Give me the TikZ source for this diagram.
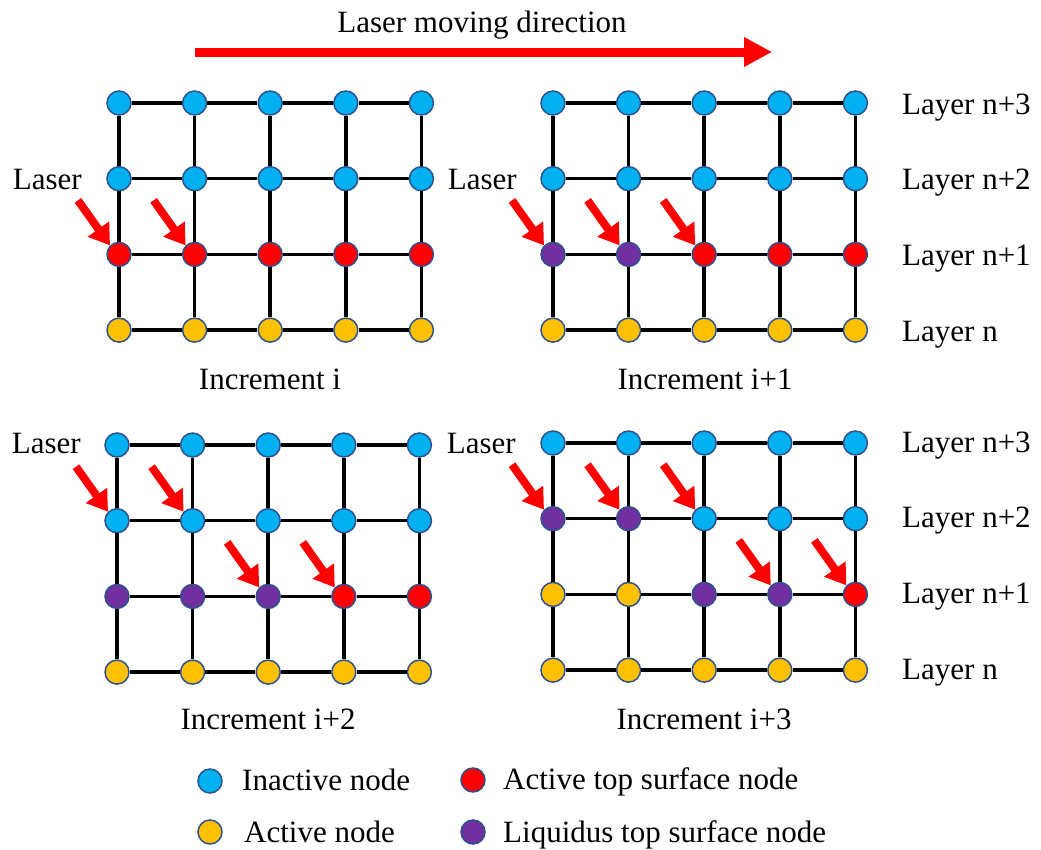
\documentclass[tikz,border=0pt]{standalone}
\usepackage{fontspec}
\setmainfont{Liberation Serif}
\usetikzlibrary{arrows.meta,positioning}

\definecolor{inactblue}{HTML}{00B0F0}
\definecolor{actyellow}{HTML}{FFC000}
\definecolor{topred}{HTML}{FF0000}
\definecolor{liqpurple}{HTML}{7030A0}
\definecolor{rimblue}{HTML}{2F528F}

\newcommand{\stepX }{75.6}
\newcommand{\stepY }{75.7}
\newcommand{\leftTopX }{119}
\newcommand{\leftBotX }{117}
\newcommand{\rightX }{553}
\newcommand{\topY }{103}
\newcommand{\botLY }{445}
\newcommand{\botRY }{443}

% one layer of nodes: name, x of first node, y, fill colours
\newcommand{\nodeRow}[4]{%
  \foreach \fillc [count=\ci] in {#4}
    \node[dot, fill=\fillc] (#1-\ci) at ({#2+(\ci-1)*\stepX}, #3) {};
}
% grid lines between the nodes of one increment
\newcommand{\meshLines}[1]{%
  \foreach \ri in {1,2,3,4}{
    \foreach \ci/\nx in {1/2,2/3,3/4,4/5}{
      \draw[gridline] (#1\ri-\ci) -- (#1\ri-\nx);
    }
  }
  \foreach \ci in {1,2,3,4,5}{
    \foreach \ri/\nx in {1/2,2/3,3/4}{
      \draw[gridline] (#1\ri-\ci) -- (#1\nx-\ci);
    }
  }
}

\tikzset{
  dot/.style={circle, draw=rimblue, line width=1.5pt, minimum size=24pt, inner sep=0pt},
  gridline/.style={draw=black, line width=3.5pt},
  laserarrow/.style={line width=8pt, red, -{Triangle[width=25pt,length=20pt]}},
  txt/.style={font=\rmfamily\fontsize{31}{37}\selectfont, inner sep=0pt}
}

\begin{document}
\begin{tikzpicture}[x=1pt, y=-1pt]
  \useasboundingbox (0,0) rectangle (1041,849);

  % Moving direction:
  \node[txt, anchor=base] (dirtext) at (482,32) {Laser moving direction};
  \coordinate (dirstart) at (195,52);
  \coordinate (dirend) at (772,52);
  \draw[line width=9pt, red, -{Triangle[width=28pt,length=28pt]}] (dirstart) -- (dirend);

  % Increment i:
  \nodeRow{tl1}{\leftTopX}{\topY}{inactblue,inactblue,inactblue,inactblue,inactblue}
  \nodeRow{tl2}{\leftTopX}{\topY+\stepY}{inactblue,inactblue,inactblue,inactblue,inactblue}
  \nodeRow{tl3}{\leftTopX}{\topY+2*\stepY}{topred,topred,topred,topred,topred}
  \nodeRow{tl4}{\leftTopX}{\topY+3*\stepY}{actyellow,actyellow,actyellow,actyellow,actyellow}
  \meshLines{tl}

  % Increment i+1:
  \nodeRow{tr1}{\rightX}{\topY}{inactblue,inactblue,inactblue,inactblue,inactblue}
  \nodeRow{tr2}{\rightX}{\topY+\stepY}{inactblue,inactblue,inactblue,inactblue,inactblue}
  \nodeRow{tr3}{\rightX}{\topY+2*\stepY}{liqpurple,liqpurple,topred,topred,topred}
  \nodeRow{tr4}{\rightX}{\topY+3*\stepY}{actyellow,actyellow,actyellow,actyellow,actyellow}
  \meshLines{tr}

  % Increment i+2:
  \nodeRow{bl1}{\leftBotX}{\botLY}{inactblue,inactblue,inactblue,inactblue,inactblue}
  \nodeRow{bl2}{\leftBotX}{\botLY+\stepY}{inactblue,inactblue,inactblue,inactblue,inactblue}
  \nodeRow{bl3}{\leftBotX}{\botLY+2*\stepY}{liqpurple,liqpurple,liqpurple,topred,topred}
  \nodeRow{bl4}{\leftBotX}{\botLY+3*\stepY}{actyellow,actyellow,actyellow,actyellow,actyellow}
  \meshLines{bl}

  % Increment i+3:
  \nodeRow{br1}{\rightX}{\botRY}{inactblue,inactblue,inactblue,inactblue,inactblue}
  \nodeRow{br2}{\rightX}{\botRY+\stepY}{liqpurple,liqpurple,inactblue,inactblue,inactblue}
  \nodeRow{br3}{\rightX}{\botRY+2*\stepY}{actyellow,actyellow,liqpurple,liqpurple,topred}
  \nodeRow{br4}{\rightX}{\botRY+3*\stepY}{actyellow,actyellow,actyellow,actyellow,actyellow}
  \meshLines{br}

  % Laser arrows:
  \foreach \target in {tl3-1, tl3-2, tr3-1, tr3-2, tr3-3, bl2-1, bl2-2, bl3-3, bl3-4,
                       br2-1, br2-2, br2-3, br3-4, br3-5}
    \draw[laserarrow] ([shift={(-32,-45)}]\target.135) -- (\target.135);

  \node[txt, anchor=base east] (laserTL) at (82,189) {Laser};
  \node[txt, anchor=base east] (laserTR) at (517,189) {Laser};
  \node[txt, anchor=base east] (laserBL) at (81,453) {Laser};
  \node[txt, anchor=base east] (laserBR) at (516,453) {Laser};

  % Layer names:
  \foreach \ri/\name in {1/n+3, 2/n+2, 3/n+1, 4/n} {
    \node[txt, anchor=base west] (layerT\ri) at (902,{\topY+(\ri-1)*\stepY+11}) {Layer \name};
    \node[txt, anchor=base west] (layerB\ri) at (902,{\botRY+(\ri-1)*\stepY+9}) {Layer \name};
  }

  % Increments:
  \node[txt, anchor=base] (incA) at (270,389) {Increment i};
  \node[txt, anchor=base] (incB) at (705,389) {Increment i+1};
  \node[txt, anchor=base] (incC) at (268,729) {Increment i+2};
  \node[txt, anchor=base] (incD) at (704,729) {Increment i+3};

  % Legend:
  \node[dot, fill=inactblue] (keyInact) at (210,781) {};
  \node[dot, fill=actyellow] (keyAct) at (210,832) {};
  \node[dot, fill=topred] (keyTop) at (473,780) {};
  \node[dot, fill=liqpurple] (keyLiq) at (473,832) {};
  \node[txt, anchor=base west] (txtInact) at (242,790) {Inactive node};
  \node[txt, anchor=base west] (txtAct) at (244,842) {Active node};
  \node[txt, anchor=base west] (txtTop) at (503,789) {Active top surface node};
  \node[txt, anchor=base west] (txtLiq) at (503,842) {Liquidus top surface node};
\end{tikzpicture}
\end{document}
